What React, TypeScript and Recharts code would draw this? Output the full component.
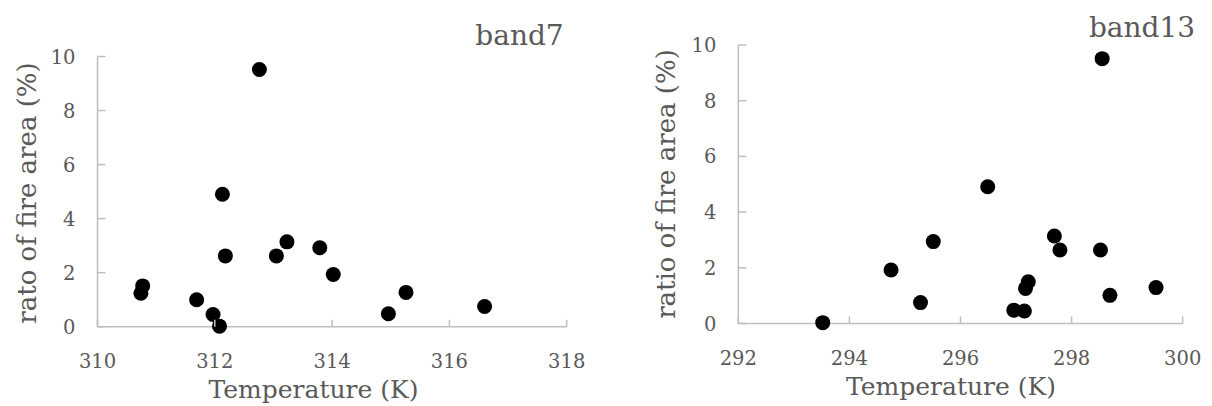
import React from 'react';
import { ScatterChart, Scatter, XAxis, YAxis } from 'recharts';

// band7 (left)
const band7Temp = [312.76, 312.13, 313.23, 313.79, 312.18, 313.05, 314.02, 310.77, 310.74, 315.26, 311.69, 316.60, 311.97, 314.96, 312.08];
const band7Ratio = [9.52, 4.90, 3.14, 2.92, 2.62, 2.62, 1.93, 1.51, 1.24, 1.27, 1.00, 0.75, 0.45, 0.48, 0.02];
// band13 (right)
const band13Temp = [298.55, 296.49, 297.69, 295.51, 297.79, 298.52, 294.75, 297.22, 297.17, 299.52, 298.69, 295.28, 296.96, 297.15, 293.52];
const band13Ratio = [9.51, 4.91, 3.14, 2.94, 2.64, 2.64, 1.92, 1.50, 1.26, 1.29, 1.01, 0.75, 0.48, 0.45, 0.03];

const band7XTicks = [310, 312, 314, 316, 318];
const band13XTicks = [292, 294, 296, 298, 300];
const yTicks = [0, 2, 4, 6, 8, 10];

const xTitle = 'Temperature (K)';
const yTitleLeft = 'rato of fire area (%)';
const yTitleRight = 'ratio of fire area (%)';

const FONT = '"DejaVu Serif", serif';
const TEXT = '#595959';
const AXIS = '#BFBFBF';

const band7Data = band7Temp.map((x, i) => ({ x, y: band7Ratio[i] }));
const band13Data = band13Temp.map((x, i) => ({ x, y: band13Ratio[i] }));

const tickStyle: React.CSSProperties = { fontFamily: FONT, fontSize: '19.5px', fill: TEXT };

const renderXTick = (props: any) => {
  const { x, y, payload } = props;
  return (
    <g>
      <line x1={x} y1={y} x2={x} y2={y - 7} stroke={AXIS} strokeWidth={1.5} />
      <text x={x} y={y + 41} textAnchor="middle" style={tickStyle}>
        {String(payload.value)}
      </text>
    </g>
  );
};

const renderYTick = (props: any) => {
  const { x, y, payload } = props;
  return (
    <g>
      <line x1={x} y1={y} x2={x + 8} y2={y} stroke={AXIS} strokeWidth={1.5} />
      <text x={x - 22} y={y} dy="0.36em" textAnchor="end" style={tickStyle}>
        {String(payload.value)}
      </text>
    </g>
  );
};

const Dot = (props: any) => <circle cx={props.cx} cy={props.cy} r={7.5} fill="#000" />;

const titleStyle = (size: number): React.CSSProperties => ({ fontFamily: FONT, fontSize: `${size}px`, fill: TEXT });

export default function App() {
  return (
    <div style={{ position: 'absolute', left: 0, top: 0, width: 1212, height: 406, background: '#fff' }}>
      <div style={{ position: 'absolute', left: 0, top: 0 }}>
        <ScatterChart width={600} height={406} margin={{ top: 56.5, right: 33.3, bottom: 0, left: 0 }}>
          <XAxis
            type="number"
            dataKey="x"
            domain={[310, 318]}
            ticks={band7XTicks}
            height={79.3}
            tickSize={0}
            tickMargin={0}
            tick={renderXTick}
            axisLine={{ stroke: AXIS, strokeWidth: 1.5 }}
            tickLine={false}
          />
          <YAxis
            type="number"
            dataKey="y"
            domain={[0, 10]}
            ticks={yTicks}
            width={97.5}
            tickSize={0}
            tickMargin={0}
            tick={renderYTick}
            axisLine={{ stroke: AXIS, strokeWidth: 1.5 }}
            tickLine={false}
          />
          <Scatter data={band7Data} fill="#000" shape={<Dot />} isAnimationActive={false} />
          <text x={313.5} y={398} textAnchor="middle" style={titleStyle(25)}>{xTitle}</text>
          <text x={35.5} y={193} textAnchor="middle" transform="rotate(-90, 35.5, 193)" style={titleStyle(26)}>{yTitleLeft}</text>
          <text x={519.5} y={45} textAnchor="middle" style={titleStyle(28)}>band7</text>
        </ScatterChart>
      </div>
      <div style={{ position: 'absolute', left: 600, top: 0 }}>
        <ScatterChart width={612} height={406} margin={{ top: 45, right: 29.3, bottom: 0, left: 0 }}>
          <XAxis
            type="number"
            dataKey="x"
            domain={[292, 300]}
            ticks={band13XTicks}
            height={82.5}
            tickSize={0}
            tickMargin={0}
            tick={renderXTick}
            axisLine={{ stroke: AXIS, strokeWidth: 1.5 }}
            tickLine={false}
          />
          <YAxis
            type="number"
            dataKey="y"
            domain={[0, 10]}
            ticks={yTicks}
            width={138.3}
            tickSize={0}
            tickMargin={0}
            tick={renderYTick}
            axisLine={{ stroke: AXIS, strokeWidth: 1.5 }}
            tickLine={false}
          />
          <Scatter data={band13Data} fill="#000" shape={<Dot />} isAnimationActive={false} />
          <text x={351} y={395} textAnchor="middle" style={titleStyle(25)}>{xTitle}</text>
          <text x={75} y={184} textAnchor="middle" transform="rotate(-90, 75, 184)" style={titleStyle(26)}>{yTitleRight}</text>
          <text x={542} y={37} textAnchor="middle" style={titleStyle(28)}>band13</text>
        </ScatterChart>
      </div>
    </div>
  );
}
